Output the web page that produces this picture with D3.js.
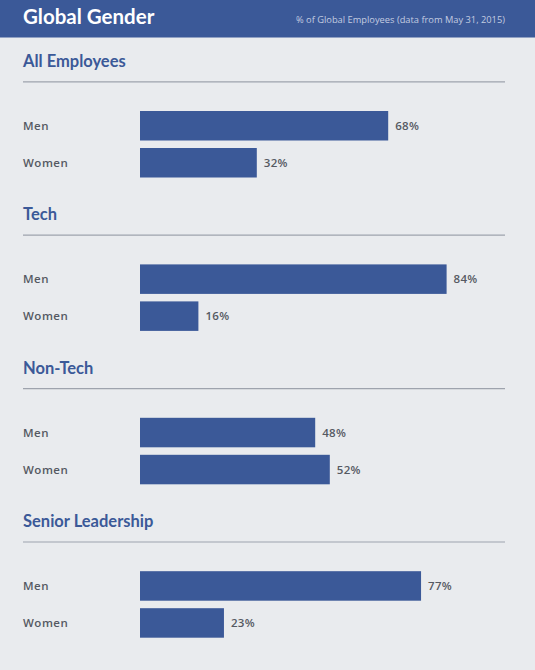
<!DOCTYPE html>
<html>
<head>
<meta charset="utf-8">
<script src="https://cdn.jsdelivr.net/npm/d3@7"></script>
<style>
  html, body { margin: 0; padding: 0; background: #e9ebee; }
  svg { display: block; font-family: Lato, "Open Sans", sans-serif; }
</style>
</head>
<body>
<svg></svg>
<script>
// DATA
const GROUPS = ["All Employees", "Tech", "Non-Tech", "Senior Leadership"];
const GENDERS = ["Men", "Women"];
const MEN = [68, 84, 48, 77];
const WOMEN = [32, 16, 52, 23];

// LAYOUT PARAMETERS
const WIDTH = 535;
const HEIGHT = 670;
const HEADER_H = 37.5;
const LEFT = 23;
const BAR_LEFT = 140;
const RIGHT = 505;
const SECTION_TOP = 61;     // center of first section title
const SECTION_STEP = 153.4;
const BAR_H = 29.5;

const BLUE = "#3b5998";
const GREY_TEXT = "#555962";
const LABEL_FONT = "'Open Sans', Lato, sans-serif";

const x = d3.scaleLinear().domain([0, 100]).range([BAR_LEFT, RIGHT]);
const sectionY = d3.scaleLinear().domain([0, 1]).range([SECTION_TOP, SECTION_TOP + SECTION_STEP]);
// offset of each bar from section title center
const barY = d3.scaleBand().domain(GENDERS).range([50, 50 + BAR_H * 2 + 7.5]).paddingInner(7.5 / (BAR_H + 7.5));

const svg = d3.select("svg").attr("width", WIDTH).attr("height", HEIGHT);

svg.append("rect").attr("width", WIDTH).attr("height", HEIGHT).attr("fill", "#e9ebee");

// header
svg.append("rect").attr("width", WIDTH).attr("height", HEADER_H).attr("fill", BLUE);
svg.append("text")
  .attr("x", LEFT).attr("y", 24)
  .attr("fill", "#fff").attr("font-size", 20.5).attr("font-weight", 700)
  .text("Global Gender");
svg.append("text")
  .attr("x", RIGHT).attr("y", 22.5)
  .attr("text-anchor", "end")
  .attr("font-family", LABEL_FONT)
  .attr("fill", "#c3cce0").attr("font-size", 9.3)
  .text("% of Global Employees (data from May 31, 2015)");

const rows = GROUPS.map((g, i) => ({group: g, i: i, values: [MEN[i], WOMEN[i]]}));

const sections = svg.selectAll(".section")
  .data(rows)
  .enter()
  .append("g")
  .classed("section", true)
  .attr("transform", d => "translate(0," + sectionY(d.i) + ")");

sections.append("text")
  .attr("x", LEFT).attr("y", 0)
  .attr("dy", "0.36em")
  .attr("fill", BLUE).attr("font-size", 16.5).attr("font-weight", 700)
  .text(d => d.group);

sections.append("line")
  .attr("x1", LEFT).attr("x2", RIGHT)
  .attr("y1", 20.8).attr("y2", 20.8)
  .attr("stroke", "#9ea3ad").attr("stroke-width", 1.2);

const bars = sections.selectAll(".bar")
  .data(d => GENDERS.map((gen, j) => ({gender: gen, value: d.values[j]})))
  .enter()
  .append("g")
  .classed("bar", true);

bars.append("rect")
  .attr("x", x(0))
  .attr("y", d => barY(d.gender))
  .attr("width", d => x(d.value) - x(0))
  .attr("height", barY.bandwidth())
  .attr("fill", BLUE);

bars.append("text")
  .attr("x", LEFT)
  .attr("y", d => barY(d.gender) + barY.bandwidth() / 2)
  .attr("dy", "0.35em")
  .attr("font-family", LABEL_FONT)
  .attr("fill", GREY_TEXT).attr("font-size", 11.5).attr("font-weight", 600)
  .attr("letter-spacing", 0.5)
  .text(d => d.gender);

bars.append("text")
  .attr("x", d => x(d.value) + 7)
  .attr("y", d => barY(d.gender) + barY.bandwidth() / 2)
  .attr("dy", "0.35em")
  .attr("font-family", LABEL_FONT)
  .attr("fill", GREY_TEXT).attr("font-size", 11.5).attr("font-weight", 600)
  .attr("letter-spacing", 0.3)
  .text(d => d.value + "%");
</script>
</body>
</html>
